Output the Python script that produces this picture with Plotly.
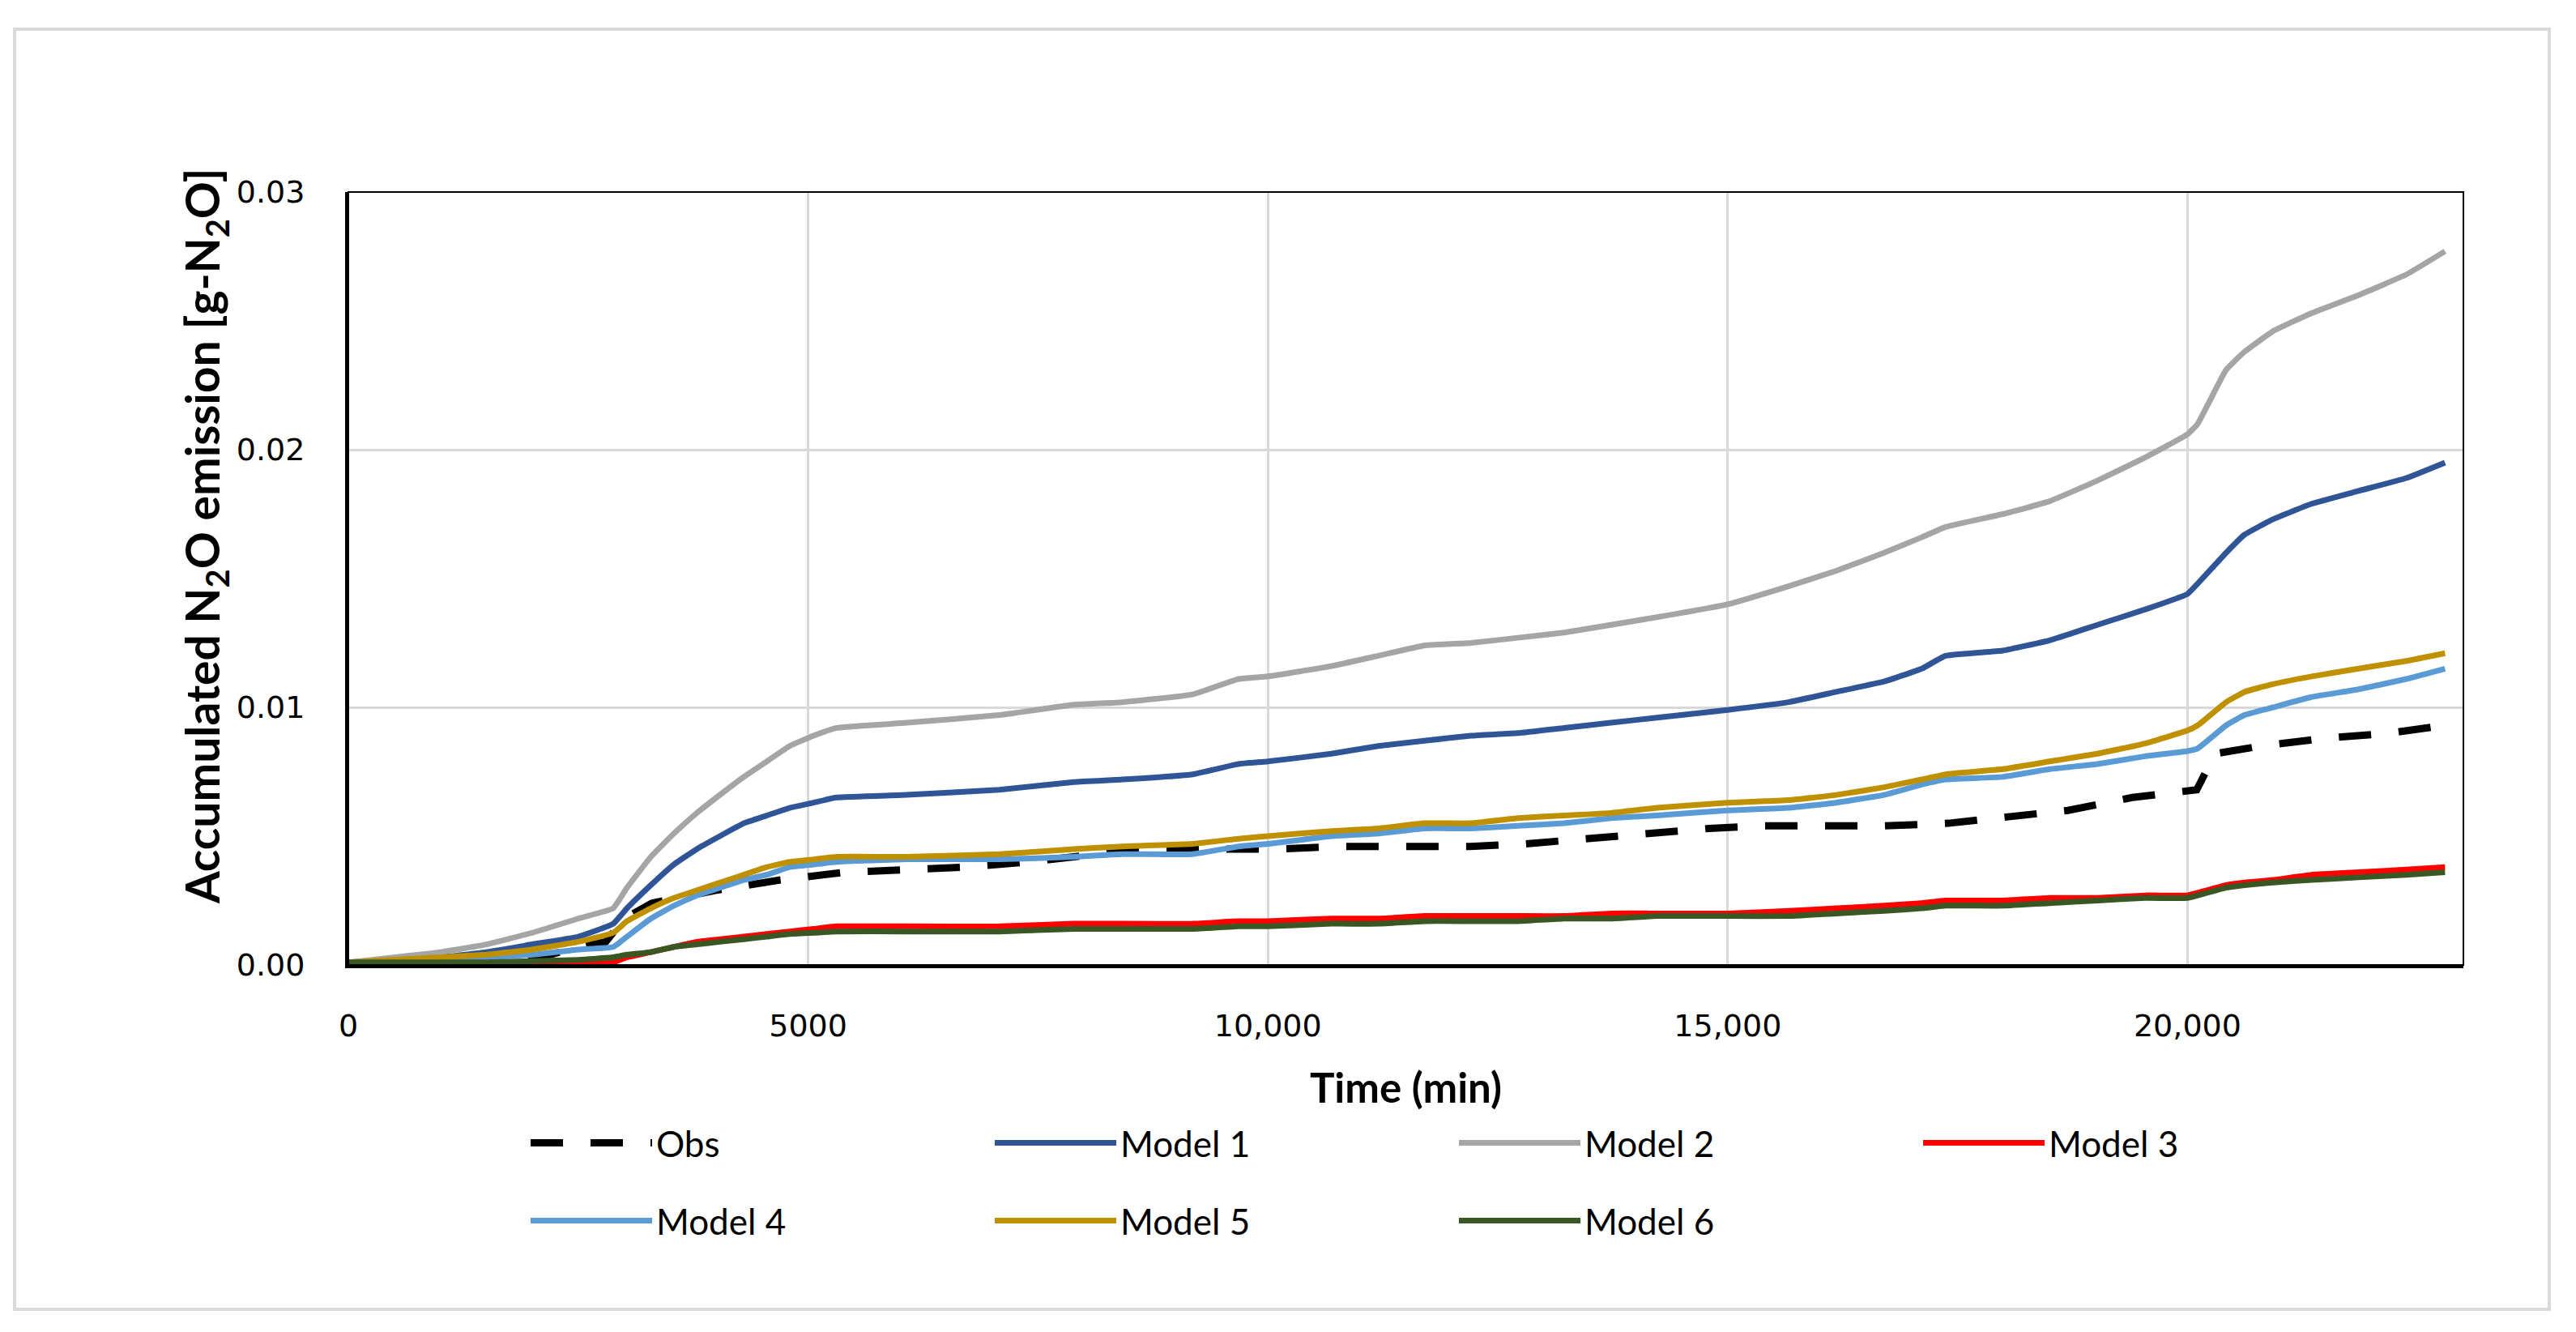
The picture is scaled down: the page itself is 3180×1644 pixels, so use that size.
import plotly.graph_objects as go

# ---------------- data ----------------
t_model = [0, 1000, 1500, 2000, 2500, 2880, 3030, 3290, 3540, 3790, 4040, 4300, 4550, 4800,
           5060, 5310, 6070, 7080, 7890, 8420, 9180, 9680, 10000, 10690, 11200, 11700, 12210,
           12720, 13220, 13730, 14230, 15000, 15660, 16180, 16700, 17110, 17370, 17990, 18500,
           19020, 19540, 20000, 20110, 20420, 20620, 20930, 21350, 21860, 22380, 22800]

model1 = [0.0001, 0.0003, 0.0005, 0.0008, 0.0011, 0.0016, 0.0022, 0.0031, 0.0039, 0.0045,
          0.0050, 0.0055, 0.0058, 0.0061, 0.0063, 0.0065, 0.0066, 0.0068, 0.0071, 0.0072,
          0.0074, 0.0078, 0.0079, 0.0082, 0.0085, 0.0087, 0.0089, 0.0090, 0.0092, 0.0094,
          0.0096, 0.0099, 0.0102, 0.0106, 0.0110, 0.0115, 0.0120, 0.0122, 0.0126, 0.0132,
          0.0138, 0.0144, 0.0148, 0.0160, 0.0167, 0.0173, 0.0179, 0.0184, 0.0189, 0.0195]

model2 = [0.0001, 0.0005, 0.0008, 0.00125, 0.0018, 0.0022, 0.0030, 0.0042, 0.0051, 0.0059,
          0.0066, 0.0073, 0.0079, 0.0085, 0.0089, 0.0092, 0.0094, 0.0097, 0.0101, 0.0102,
          0.0105, 0.0111, 0.0112, 0.0116, 0.0120, 0.0124, 0.0125, 0.0127, 0.0129, 0.0132,
          0.0135, 0.0140, 0.0147, 0.0153, 0.0160, 0.0166, 0.0170, 0.0175, 0.0180, 0.0188,
          0.0197, 0.0206, 0.0210, 0.0231, 0.0238, 0.0246, 0.0253, 0.0260, 0.0268, 0.0277]

model3 = [0.0001, 0.0001, 0.0001, 0.0001, 0.0001, 0.0001, 0.0003, 0.0005, 0.0007, 0.0009,
          0.0010, 0.0011, 0.0012, 0.0013, 0.0014, 0.0015, 0.0015, 0.0015, 0.0016, 0.0016,
          0.0016, 0.0017, 0.0017, 0.0018, 0.0018, 0.0019, 0.0019, 0.0019, 0.0019, 0.0020,
          0.0020, 0.0020, 0.0021, 0.0022, 0.0023, 0.0024, 0.0025, 0.0025, 0.0026, 0.0026,
          0.0027, 0.0027, 0.0028, 0.0031, 0.0032, 0.0033, 0.0035, 0.0036, 0.0037, 0.0038]

model4 = [0.0001, 0.0002, 0.0003, 0.0004, 0.0006, 0.0007, 0.0011, 0.0018, 0.0023, 0.0027,
          0.0030, 0.0033, 0.0035, 0.0038, 0.0039, 0.0040, 0.0041, 0.0041, 0.0042, 0.0043,
          0.0043, 0.0046, 0.0047, 0.0050, 0.0051, 0.0053, 0.0053, 0.0054, 0.0055, 0.0057,
          0.0058, 0.0060, 0.0061, 0.0063, 0.0066, 0.0070, 0.0072, 0.0073, 0.0076, 0.0078,
          0.0081, 0.0083, 0.0084, 0.0093, 0.0097, 0.0100, 0.0104, 0.0107, 0.0111, 0.0115]

model5 = [0.0001, 0.0003, 0.0004, 0.0006, 0.0009, 0.00125, 0.0017, 0.0022, 0.0026, 0.0029,
          0.0032, 0.0035, 0.0038, 0.0040, 0.0041, 0.0042, 0.0042, 0.0043, 0.0045, 0.0046,
          0.0047, 0.0049, 0.0050, 0.0052, 0.0053, 0.0055, 0.0055, 0.0057, 0.0058, 0.0059,
          0.0061, 0.0063, 0.0064, 0.0066, 0.0069, 0.0072, 0.0074, 0.0076, 0.0079, 0.0082,
          0.0086, 0.0091, 0.0093, 0.0102, 0.0106, 0.0109, 0.0112, 0.0115, 0.0118, 0.0121]

model6 = [0.0001, 0.0001, 0.0001, 0.00015, 0.0002, 0.0003, 0.0004, 0.0005, 0.0007, 0.0008,
          0.0009, 0.0010, 0.0011, 0.0012, 0.00125, 0.0013, 0.0013, 0.0013, 0.0014, 0.0014,
          0.0014, 0.0015, 0.0015, 0.0016, 0.0016, 0.0017, 0.0017, 0.0017, 0.0018, 0.0018,
          0.0019, 0.0019, 0.0019, 0.0020, 0.0021, 0.0022, 0.0023, 0.0023, 0.0024, 0.0025,
          0.0026, 0.0026, 0.0027, 0.0030, 0.0031, 0.0032, 0.0033, 0.0034, 0.0035, 0.0036]

t_obs = [0, 1000, 2000, 2400, 2800, 3000, 3300, 4000, 4700, 5400, 6100, 6700, 7400, 7900,
         8400, 9400, 10100, 10800, 11500, 12200, 12800, 13500, 14200, 14800, 15400, 16000,
         16700, 17400, 18000, 18700, 19400, 20100, 20300, 20800, 21500, 22200, 22800]
obs = [0.0, 0.0, 0.0002, 0.0006, 0.0009, 0.0018, 0.0024, 0.0029, 0.0033, 0.0036, 0.0037,
       0.0038, 0.0040, 0.0042, 0.0044, 0.0045, 0.0045, 0.0046, 0.0046, 0.0046, 0.0047,
       0.0049, 0.0051, 0.0053, 0.0054, 0.0054, 0.0054, 0.0055, 0.0057, 0.0060, 0.0065,
       0.0068, 0.0082, 0.0085, 0.0088, 0.0090, 0.0093]

x_tickvals = [0, 5000, 10000, 15000, 20000]
x_ticktext = ["0", "5000", "10,000", "15,000", "20,000"]
y_tickvals = [0, 0.01, 0.02, 0.03]
y_ticktext = ["0.00", "0.01", "0.02", "0.03"]

series = [
    ("Model 1", model1, "#2F5597"),
    ("Model 2", model2, "#A5A5A5"),
    ("Model 3", model3, "#FF0000"),
    ("Model 4", model4, "#5B9BD5"),
    ("Model 5", model5, "#BF9000"),
    ("Model 6", model6, "#385723"),
]

# ---------------- layout geometry (pixels) ----------------
W, H = 3180, 1644
L, R, T, B = 430, 3041, 237, 1191
PW, PH = R - L, B - T


def px(xp):
    return (xp - L) / PW


def py(yp):
    return (B - yp) / PH


fig = go.Figure()

fig.add_trace(go.Scatter(x=t_obs, y=obs, name="Obs", mode="lines",
                         line=dict(color="black", width=9, dash="40px,34px"),
                         legend="legend"))
for name, vals, col in series:
    fig.add_trace(go.Scatter(x=t_model, y=vals, name=name, mode="lines",
                             line=dict(color=col, width=7, shape="spline", smoothing=0.35),
                             legend="legend" if name in ("Model 1", "Model 2", "Model 3") else "legend2"))

tick_font = dict(family="DejaVu Sans", size=38, color="black")
leg_font = dict(family="Lato", size=44, color="black")
leg_common = dict(orientation="h", x=px(650), xanchor="left", yanchor="middle",
                  entrywidth=408, entrywidthmode="pixels", itemwidth=150,
                  font=leg_font, bgcolor="rgba(0,0,0,0)", borderwidth=0, traceorder="normal")

fig.update_layout(
    width=W, height=H,
    margin=dict(l=L, r=W - R, t=T, b=H - B, autoexpand=False),
    paper_bgcolor="white", plot_bgcolor="white",
    showlegend=True,
    xaxis=dict(range=[0, 23000], tickvals=x_tickvals, ticktext=x_ticktext,
               showgrid=True, gridcolor="#D9D9D9", gridwidth=3,
               showline=True, linecolor="black", linewidth=4,
               zeroline=False, ticks="", tickfont=tick_font, ticklabelstandoff=38,
               title=dict(text="<b>Time (min)</b>", font=dict(family="Lato", size=51, color="black"),
                          standoff=40)),
    yaxis=dict(range=[0, 0.03], tickvals=y_tickvals, ticktext=y_ticktext,
               showgrid=True, gridcolor="#D9D9D9", gridwidth=3,
               showline=True, linecolor="black", linewidth=4,
               zeroline=False, ticks="", tickfont=tick_font, ticklabelstandoff=42),
    legend=dict(leg_common, y=py(1411)),
    legend2=dict(leg_common, y=py(1507)),
    annotations=[
        dict(text="<b>Accumulated N<sub>2</sub>O emission [g-N<sub>2</sub>O]</b>",
             xref="paper", yref="paper", x=px(253), y=py(662), xanchor="center", yanchor="middle",
             textangle=-90, showarrow=False,
             font=dict(family="Lato", size=57, color="black")),
    ],
    shapes=[
        dict(type="rect", xref="paper", yref="paper", x0=0, x1=1, y0=0, y1=1,
             line=dict(color="black", width=2), layer="above"),
        dict(type="rect", xref="paper", yref="paper", x0=px(18), x1=px(3147), y0=py(36), y1=py(1616),
             line=dict(color="#D9D9D9", width=4), layer="below"),
    ],
)

fig.write_html("out.html", config={"displayModeBar": False},
               post_script="document.body.style.margin='0';")
